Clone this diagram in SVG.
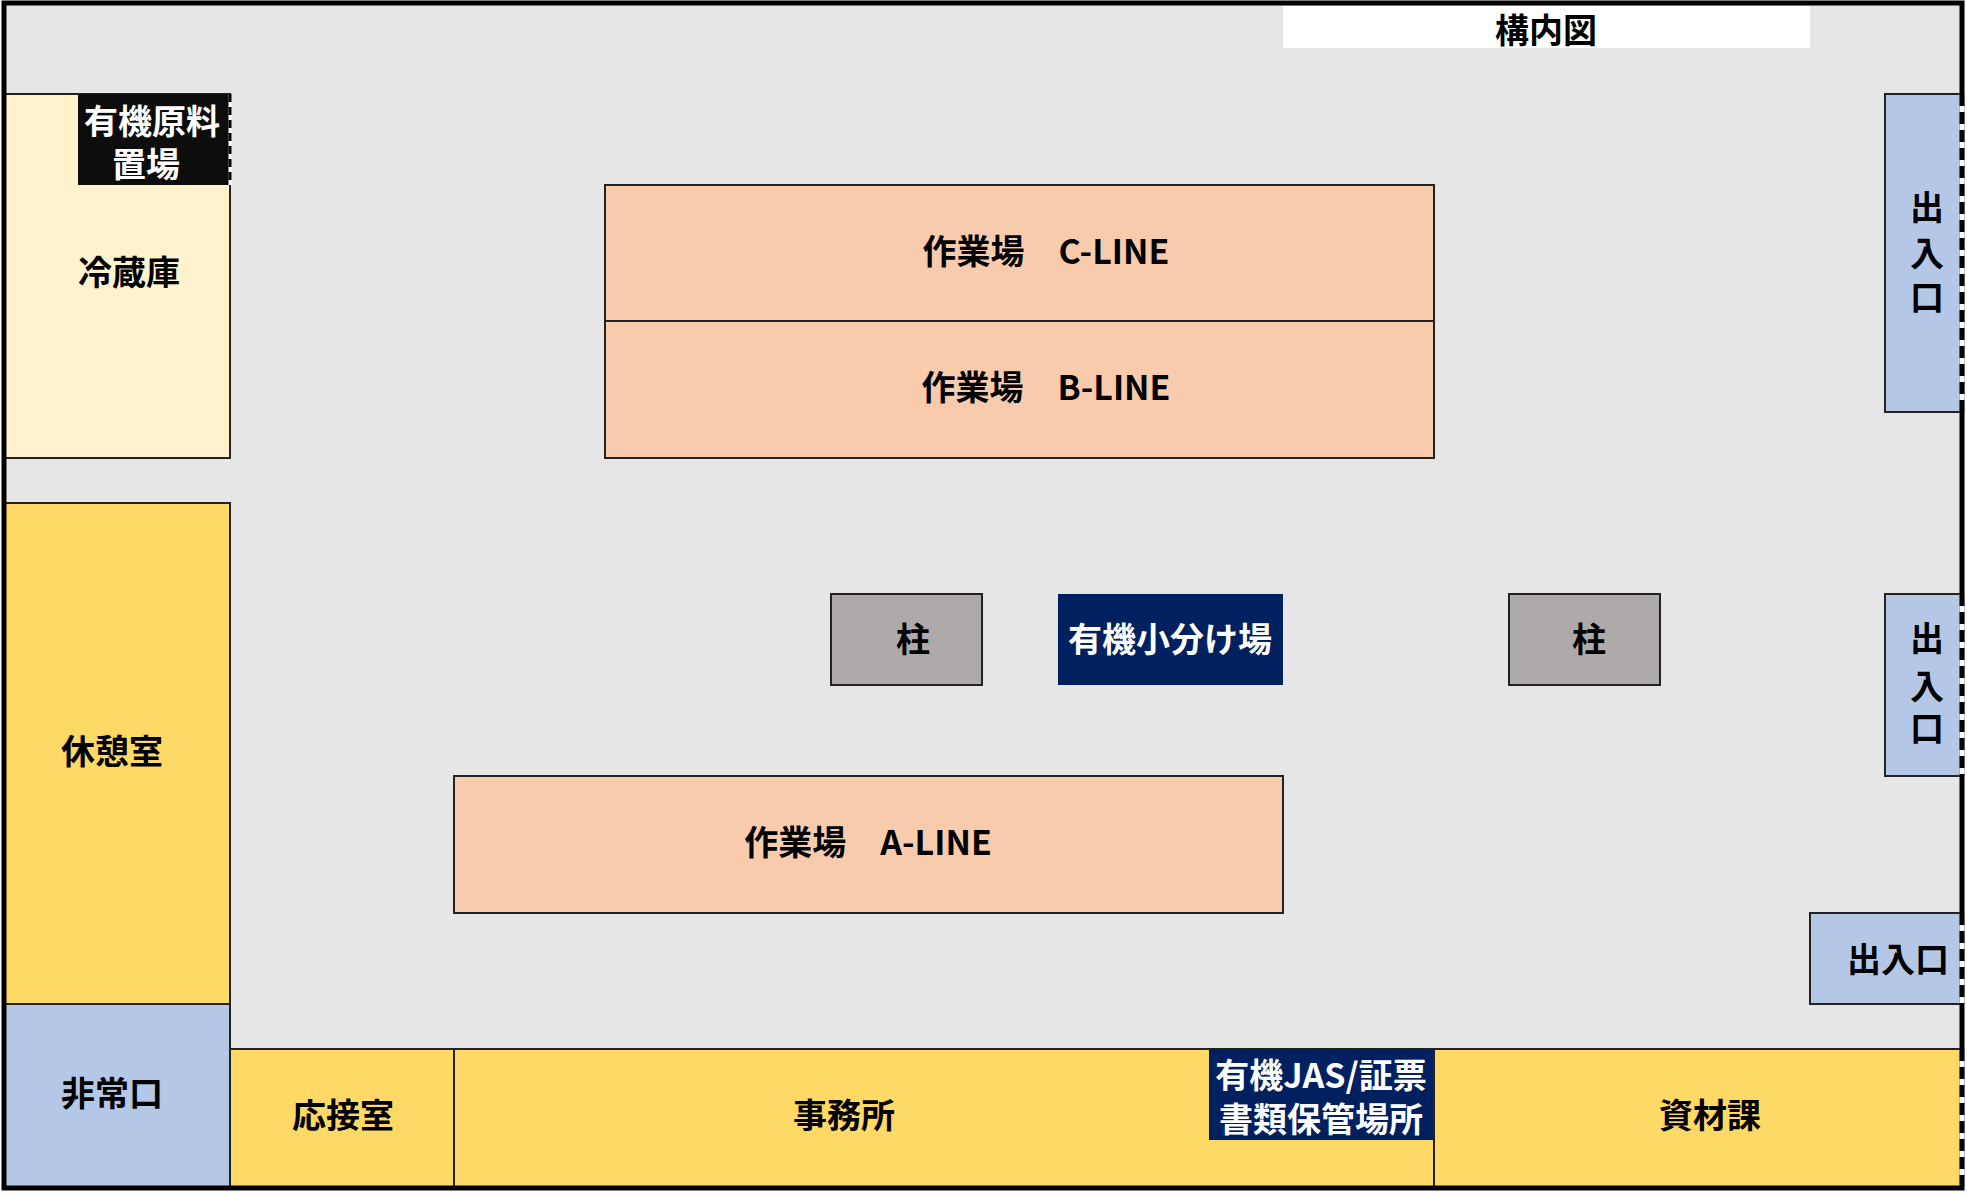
<svg xmlns="http://www.w3.org/2000/svg" width="1967" height="1194" viewBox="0 0 1967 1194">
<style>
text{font-family:"Noto Sans CJK JP","Noto Sans",sans-serif;font-weight:bold;font-size:34px;text-anchor:middle;dominant-baseline:central;fill:#000}
.w{fill:#fff}
.n{stroke:#222;stroke-width:2}
.cream{fill:#fff2cc}.yel{fill:#ffd966}.blue{fill:#b4c7e7}.sal{fill:#f8cbad}.gray{fill:#aeaaaa}.navy{fill:#002060}.blk{fill:#0d0d0d}
</style>
<rect x="4" y="3" width="1958" height="1185" fill="#e6e6e6"/>
<g id="title"><rect x="1283" y="6" width="527" height="42" fill="#fff"/><text x="1546" y="28">構内図</text></g>
<g id="reizoko"><rect class="n cream" x="4" y="94" width="226" height="364"/><text x="129" y="270">冷蔵庫</text></g>
<g id="genryo"><rect class="blk" x="78" y="94" width="152" height="91"/><text class="w" x="152" y="119">有機原料</text><text class="w" x="146" y="162">置場</text><line x1="230" y1="94" x2="230" y2="185" stroke="#fff" stroke-width="3"/><line x1="230" y1="94" x2="230" y2="185" stroke="#000" stroke-width="3" stroke-dasharray="8,5"/></g>
<g id="kyukei"><rect class="n yel" x="4" y="503" width="226" height="501"/><text x="112" y="749">休憩室</text></g>
<g id="hijo"><rect class="n blue" x="4" y="1004" width="226" height="184"/><text x="112" y="1091">非常口</text></g>
<g id="osetsu"><rect class="n yel" x="230" y="1049" width="224" height="139"/><text x="343" y="1113">応接室</text></g>
<g id="jimusho"><rect class="n yel" x="454" y="1049" width="980" height="139"/><text x="844" y="1113">事務所</text></g>
<g id="jas"><rect class="navy" x="1209" y="1049" width="225" height="91"/><text class="w" x="1321" y="1073">有機JAS/証票</text><text class="w" x="1321" y="1117">書類保管場所</text></g>
<g id="shizai"><rect class="n yel" x="1434" y="1049" width="528" height="139"/><text x="1710" y="1113">資材課</text></g>
<g id="cline"><rect class="n sal" x="605" y="185" width="829" height="136"/><text x="1046" y="249">作業場　C-LINE</text></g>
<g id="bline"><rect class="n sal" x="605" y="321" width="829" height="137"/><text x="1046" y="385">作業場　B-LINE</text></g>
<g id="aline"><rect class="n sal" x="454" y="776" width="829" height="137"/><text x="868" y="840">作業場　A-LINE</text></g>
<g id="hashira1"><rect class="n gray" x="831" y="594" width="151" height="91"/><text x="913" y="637">柱</text></g>
<g id="kowake"><rect class="navy" x="1058" y="594" width="225" height="91"/><text class="w" x="1170" y="637">有機小分け場</text></g>
<g id="hashira2"><rect class="n gray" x="1509" y="594" width="151" height="91"/><text x="1589" y="637">柱</text></g>
<g id="door1"><rect class="n blue" x="1885" y="94" width="77" height="318"/><text x="1927" y="205">出</text><text x="1927" y="251">入</text><text x="1927" y="295">口</text></g>
<g id="door2"><rect class="n blue" x="1885" y="594" width="77" height="182"/><text x="1927" y="636">出</text><text x="1927" y="684">入</text><text x="1927" y="726">口</text></g>
<g id="door3"><rect class="n blue" x="1810" y="913" width="152" height="91"/><text x="1898" y="957">出入口</text></g>
<g id="walls" fill="none" stroke="#000" stroke-width="5">
<rect x="4" y="3" width="1958" height="1185"/>
<g stroke="#fff"><line x1="1962" y1="94" x2="1962" y2="412"/><line x1="1962" y1="594" x2="1962" y2="776"/><line x1="1962" y1="913" x2="1962" y2="1004"/><line x1="1962" y1="1049" x2="1962" y2="1186"/></g>
<g stroke-dasharray="12,6"><line x1="1962" y1="94" x2="1962" y2="412"/><line x1="1962" y1="594" x2="1962" y2="776"/><line x1="1962" y1="913" x2="1962" y2="1004"/><line x1="1962" y1="1049" x2="1962" y2="1186"/></g>
</g>
</svg>
